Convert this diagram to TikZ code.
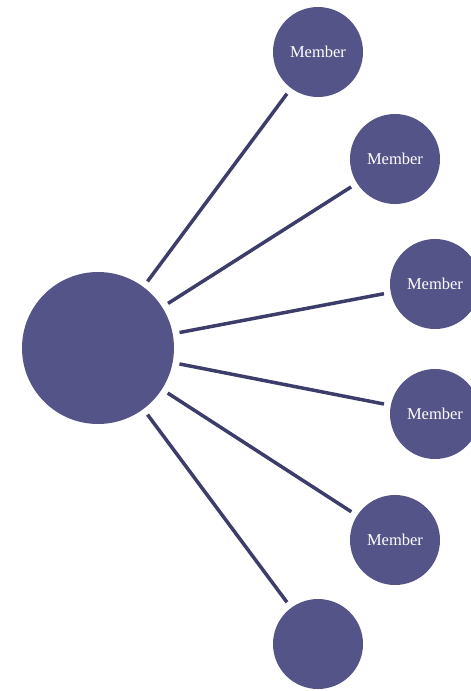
\documentclass[tikz,border=0pt]{standalone}
\usepackage{fontspec}
\setmainfont{Liberation Serif}
\usetikzlibrary{positioning}
\definecolor{circlefill}{HTML}{545488}
\definecolor{linkcolor}{HTML}{3D3D6B}
\tikzset {
    style Hub/.style={
        fill=circlefill,
        draw=none,
        circle, % Set the shape as a circle
        minimum size=152pt,
        inner sep=0pt,
        outer sep=7pt,
    },
    style Member/.style={
        fill=circlefill,
        draw=none,
        circle, % Set the shape as a circle
        minimum size=90pt,
        inner sep=0pt,
        outer sep=7pt,
        text=white,
        font=\fontsize{16.5}{19}\selectfont,
        align=center,
    },
    style Link/.style={
        draw=linkcolor,
        line width=3.5pt,
    },
}
\begin{document}
\begin{tikzpicture}[x=1pt,y=-1pt]

        \useasboundingbox (0,0) rectangle (471,691);
        \clip (0,0) rectangle (471,691);

        \node[style Hub] (hub) at (98,348) {};

        \node[style Member] (m1) at (318,52) {Member};
        \node[style Member] (m2) at (395,159) {Member};
        \node[style Member] (m3) at (435,284) {Member};
        \node[style Member] (m4) at (435,414) {Member};
        \node[style Member] (m5) at (395,540) {Member};
        \node[style Member] (m6) at (318,644) {};

        \foreach \m in {m1,m2,m3,m4,m5,m6}
            \draw[style Link] (hub) -- (\m);

    \end{tikzpicture}
\end{document}
